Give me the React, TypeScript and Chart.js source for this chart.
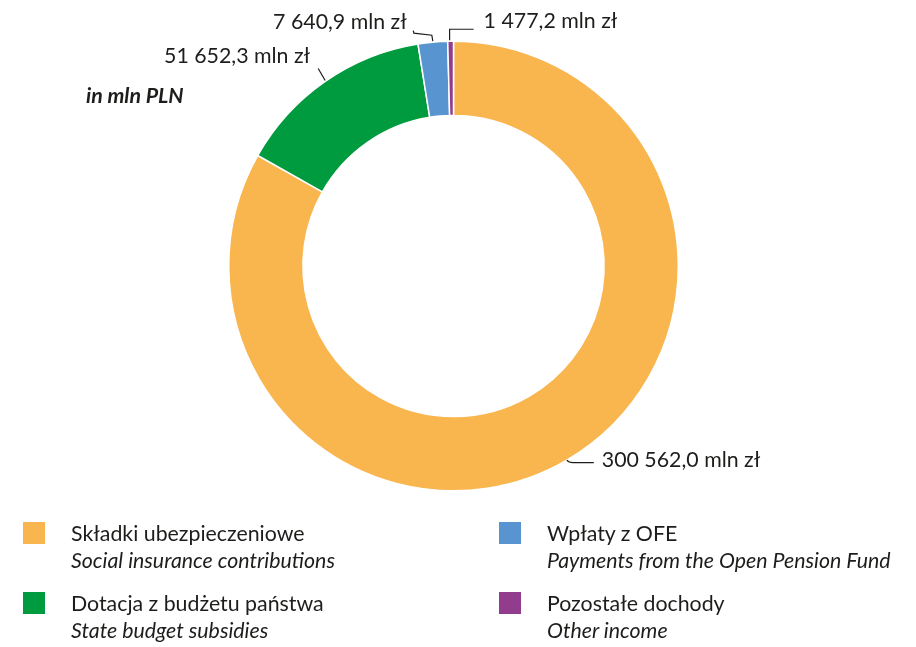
import React, { useEffect, useRef } from "react";
import { Chart, registerables } from "chart.js";

Chart.register(...registerables);

const categoriesPl = ["Składki ubezpieczeniowe", "Dotacja z budżetu państwa", "Wpłaty z OFE", "Pozostałe dochody"];
const categoriesEn = ["Social insurance contributions", "State budget subsidies", "Payments from the Open Pension Fund", "Other income"];
const values = [300562.0, 51652.3, 7640.9, 1477.2];
const colors = ["#F9B54E", "#009B3E", "#5894D0", "#923C8E"];
const unitNote = "in mln PLN";

const TEXT = "#1d1d1b";
const FONT = "Lato, 'Open Sans', sans-serif";
const FS = 21.33;

function fmt(v: number): string {
  const [i, d] = v.toFixed(1).split(".");
  const withSp = i.replace(/\B(?=(\d{3})+(?!\d))/g, " ");
  return `${withSp},${d} mln zł`;
}

const labelPlugin = {
  id: "sliceLabels",
  afterDatasetsDraw(chart: any) {
    const ctx = chart.ctx;
    const meta = chart.getDatasetMeta(0);
    ctx.save();
    ctx.strokeStyle = TEXT;
    ctx.lineWidth = 1.2;
    ctx.fillStyle = TEXT;
    ctx.font = `${FS}px ${FONT}`;
    ctx.textBaseline = "alphabetic";
    meta.data.forEach((arc: any, i: number) => {
      const { x, y, startAngle, endAngle, outerRadius } = arc.getProps(["x", "y", "startAngle", "endAngle", "outerRadius"], true);
      const mid = (startAngle + endAngle) / 2;
      const px = x + Math.cos(mid) * outerRadius;
      const py = y + Math.sin(mid) * outerRadius;
      const text = fmt(values[i]);
      ctx.beginPath();
      if (i === 0) {
        ctx.moveTo(px, py);
        ctx.quadraticCurveTo(px + 2, py + 2.5, px + 6, py + 2.5);
        ctx.lineTo(px + 27, py + 2.5);
        ctx.stroke();
        ctx.textAlign = "left";
        ctx.fillText(text, px + 35, py + 6.5);
      } else if (i === 1) {
        ctx.moveTo(px, py - 1);
        ctx.lineTo(px - 7, py - 13);
        ctx.stroke();
        ctx.textAlign = "right";
        ctx.fillText(text, px - 15, py - 18);
      } else if (i === 2) {
        ctx.moveTo(px, py - 1);
        ctx.lineTo(px - 1, py - 7);
        ctx.lineTo(px - 19, py - 9);
        ctx.lineTo(px - 19.5, py - 11.5);
        ctx.stroke();
        ctx.textAlign = "right";
        ctx.fillText(text, px - 26, py - 13.5);
      } else {
        ctx.moveTo(px - 1, py - 1);
        ctx.lineTo(px - 1, py - 12);
        ctx.lineTo(px + 23, py - 12);
        ctx.stroke();
        ctx.textAlign = "left";
        ctx.fillText(text, px + 33, py - 13.5);
      }
    });
    ctx.restore();
  },
};

export default function App() {
  const ref = useRef<HTMLCanvasElement | null>(null);
  useEffect(() => {
    document.body.style.margin = "0";
    const chart = new Chart(ref.current as HTMLCanvasElement, {
      type: "doughnut",
      data: {
        labels: categoriesPl,
        datasets: [
          {
            data: values,
            backgroundColor: colors,
            borderColor: "#ffffff",
            borderWidth: 1.5,
          },
        ],
      },
      options: {
        responsive: false,
        animation: false,
        cutout: "67%",
        rotation: 0,
        layout: { padding: { top: 40, bottom: 155, left: 228, right: 237 } },
        plugins: { legend: { display: false }, tooltip: { enabled: false } },
      },
      plugins: [labelPlugin],
    });
    return () => chart.destroy();
  }, []);

  const legendPos = [
    { x: 23, y: 522 },
    { x: 23, y: 592 },
    { x: 499, y: 522 },
    { x: 499, y: 592 },
  ];

  return (
    <div style={{ position: "relative", width: 916, height: 647, background: "#fff", fontFamily: FONT, color: TEXT, overflow: "hidden" }}>
      <canvas ref={ref} width={916} height={647} style={{ position: "absolute", left: 0, top: 0, width: 916, height: 647 }} />
      <div style={{ position: "absolute", left: 86, top: 82.5, fontSize: FS, fontWeight: 700, fontStyle: "italic", lineHeight: "24px", whiteSpace: "nowrap" }}>
        {unitNote}
      </div>
      {categoriesPl.map((c, i) => (
        <div key={c} style={{ position: "absolute", left: legendPos[i].x, top: legendPos[i].y, whiteSpace: "nowrap" }}>
          <div style={{ position: "absolute", left: 0, top: 0, width: 22, height: 22, background: colors[i] }} />
          <div style={{ position: "absolute", left: 48, top: -2, fontSize: FS, lineHeight: "27px" }}>
            <div>{c}</div>
            <div style={{ fontStyle: "italic" }}>{categoriesEn[i]}</div>
          </div>
        </div>
      ))}
    </div>
  );
}
